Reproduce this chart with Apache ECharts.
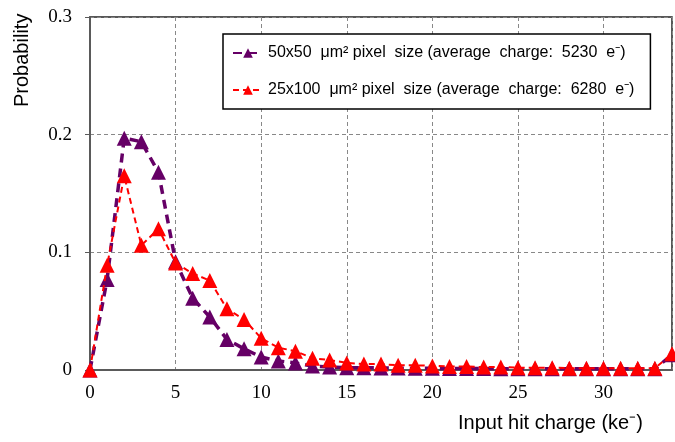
<!DOCTYPE html>
<html>
<head>
<meta charset="utf-8">
<script src="https://cdn.jsdelivr.net/npm/echarts@6/dist/echarts.min.js"></script>
<style>
    html,body{margin:0;padding:0;background:#fff;}
    #container{width:675px;height:442px;}
</style>
</head>
<body>
<div id="container"></div>
<script>
// 横坐标: 输入电荷 (ke-)
var charge = [0,1,2,3,4,5,6,7,8,9,10,11,12,13,14,15,16,17,18,19,20,21,22,23,24,25,26,27,28,29,30,31,32,33,34];
// 50x50 像素
var prob50x50 = [0,0.077,0.197,0.194,0.168,0.092,0.061,0.045,0.026,0.018,0.011,0.0077,0.006,0.0034,0.0026,0.002,0.002,0.0018,0.0016,0.0015,0.0014,0.0013,0.0012,0.0012,0.0011,0.001,0.001,0.001,0.001,0.001,0.001,0.001,0.001,0.001,0.013];
// 25x100 像素
var prob25x100 = [0,0.089,0.165,0.106,0.120,0.091,0.082,0.076,0.052,0.043,0.027,0.019,0.016,0.010,0.0085,0.006,0.005,0.005,0.004,0.004,0.0035,0.003,0.003,0.0025,0.0025,0.002,0.002,0.002,0.0015,0.0015,0.0015,0.0015,0.0015,0.0015,0.0138];
var seriesNames = ['50x50  \u03bcm\u00b2 pixel  size (average  charge:  5230  e\u207b)','25x100  \u03bcm\u00b2 pixel  size (average  charge:  6280  e\u207b)'];
var yTicks = [0,0.1,0.2,0.3];

function pairs(xs, ys){
    var out = [];
    for(var i = 0; i < xs.length; i++){
        out.push([xs[i], ys[i]]);
    }
    return out;
}

var serif = '"Liberation Serif", "DejaVu Serif", serif';
var sans = '"Liberation Sans", Arial, sans-serif';

var option = {
    animation: false,
    backgroundColor: '#fff',
    grid: {
        left: 90,
        top: 17,
        right: 3,
        bottom: 72,
        show: true,
        borderColor: '#222',
        borderWidth: 1.5
    },
    legend: {
        orient: 'vertical',
        left: 223,
        top: 34,
        padding: [9, 16, 9, 9],
        itemGap: 17,
        itemWidth: 30,
        itemHeight: 12,
        backgroundColor: '#fff',
        borderColor: '#000',
        borderWidth: 1.5,
        textStyle: {
            fontFamily: sans,
            fontSize: 16,
            lineHeight: 20,
            color: '#000'
        },
        data: seriesNames
    },
    xAxis: {
        type: 'value',
        min: 0,
        max: 34,
        interval: 5,
        axisLine: {onZero: false, lineStyle: {color: '#5a5a5a', width: 2}},
        axisTick: {show: false},
        axisLabel: {
            showMaxLabel: false,
            margin: 14,
            fontFamily: serif,
            fontSize: 19,
            color: '#000'
        },
        splitLine: {lineStyle: {color: '#888', type: [4, 3], width: 1}}
    },
    yAxis: {
        type: 'value',
        min: yTicks[0],
        max: yTicks[yTicks.length - 1],
        interval: 0.1,
        axisLine: {show: true, lineStyle: {color: '#5a5a5a', width: 2}},
        axisTick: {show: true, length: 5, lineStyle: {color: '#5a5a5a'}},
        axisLabel: {
            margin: 18,
            fontFamily: serif,
            fontSize: 19,
            color: '#000',
            formatter: function(v){ return v === 0 ? '0' : v.toFixed(1); }
        },
        splitLine: {lineStyle: {color: '#888', type: [4, 3], width: 1}}
    },
    graphic: [
        {
            type: 'text',
            x: 12,
            y: 107,
            rotation: Math.PI / 2,
            style: {
                text: 'Probability',
                font: '20px ' + sans,
                fill: '#000',
                textAlign: 'left',
                textVerticalAlign: 'top'
            }
        },
        {
            type: 'text',
            left: 458,
            top: 413,
            style: {
                text: 'Input hit charge (ke\u207b)',
                font: '20px ' + sans,
                fill: '#000'
            }
        }
    ],
    series: [
        {
            name: seriesNames[0],
            type: 'line',
            data: pairs(charge, prob50x50),
            symbol: 'triangle',
            symbolSize: 15,
            itemStyle: {color: '#660066'},
            lineStyle: {color: '#660066', width: 3.5, type: [9, 6]},
            z: 2
        },
        {
            name: seriesNames[1],
            type: 'line',
            data: pairs(charge, prob25x100),
            symbol: 'triangle',
            symbolSize: 15,
            itemStyle: {color: '#ff0000'},
            lineStyle: {color: '#ff0000', width: 2, type: [6, 4]},
            z: 3
        }
    ]
};

var myChart = echarts.init(document.getElementById('container'));
myChart.setOption(option);
</script>
</body>
</html>
